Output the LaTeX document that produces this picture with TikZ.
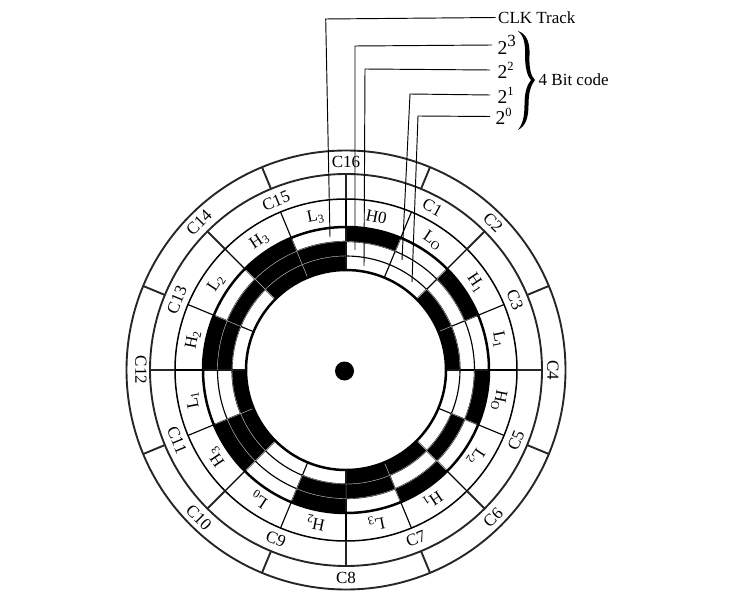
\documentclass[tikz,border=0pt]{standalone}
\usepackage{fontspec}
\setmainfont{Liberation Serif}
\tikzset{
  ringline/.style={draw=black!85,line width=1.9pt},
  trackline/.style={draw=black,line width=1.15pt},
  heavy/.style={draw=black,line width=2.5pt},
  cellfill/.style={fill=black,draw=black!30,line width=.4pt},
  leader/.style={draw=black,line width=.95pt,line join=miter},
  lab/.style={inner sep=0pt,font=\fontsize{17bp}{19bp}\selectfont},
  toplab/.style={inner sep=2.5pt,anchor=west,font=\fontsize{17bp}{19bp}\selectfont},
  bitlab/.style={inner ysep=2pt,anchor=west,font=\fontsize{19.5bp}{22bp}\selectfont},
}
\newcommand{\cellk}[3]{% sector index, inner radius, outer radius
  \pgfmathsetmacro{\aa}{90-22.5*#1}\pgfmathsetmacro{\ab}{90-22.5*(#1+1)}
  \path[cellfill] (\aa:#3) arc[start angle=\aa,end angle=\ab,radius=#3]
    -- (\ab:#2) arc[start angle=\ab,end angle=\aa,radius=#2] -- cycle;}
\begin{document}
\begin{tikzpicture}[x=1bp,y=-1bp]
\useasboundingbox (0,0) rectangle (743,616);
\begin{scope}[shift={(346,370)},y=1bp]
  \foreach \r in {219.5,196}{\draw[ringline] (0,0) circle[radius=\r];}
  \draw[trackline,line width=1.5pt] (0,0) circle[radius=171];
  \foreach \r in {128.5,114}{\draw[trackline] (0,0) circle[radius=\r];}
  % radial separators
  \foreach \k in {0,...,15}{\draw[trackline] (22.5*\k:100) -- (22.5*\k:171);}
  \foreach \k in {0,...,7}{\draw[ringline] (45*\k:171) -- (45*\k:196);
    \draw[ringline] (22.5+45*\k:196) -- (22.5+45*\k:219.5);}
  % coded cells
  \foreach \k in {0,2,4,6,8,10,12,14}{\cellk{\k}{128.5}{143}}
  \foreach \k in {5,7,8,10,12,13,14,15}{\cellk{\k}{114}{128.5}}
  \foreach \k in {2,3,6,7,10,11,14,15}{\cellk{\k}{100}{114}}
  \draw[heavy] (0,0) circle[radius=143];
  \draw[heavy] (0,0) circle[radius=100];
  \fill (-1.5,-1) circle[radius=9.5];
  % track labels
  \foreach \k/\t in {0/H0,1/L\textsubscript{O},2/H\textsubscript{1},3/L\textsubscript{1},4/H\textsubscript{O},5/L\textsubscript{2},6/H\textsubscript{1},7/L\textsubscript{3},8/H\textsubscript{2},9/L\textsubscript{0},10/H\textsubscript{3},11/L\textsubscript{1},12/H\textsubscript{2},13/L\textsubscript{2},14/H\textsubscript{3},15/L\textsubscript{3}}{
    \pgfmathsetmacro{\am}{78.75-22.5*\k}
    \node[lab,rotate=\am-90] (t\k) at (\am:156) {\t};}
  % sector labels
  \foreach \n/\a/\r/\q in {16/90/208/0,1/62/184/-28,2/45/208/-45,3/22.5/183/-67.5,4/0/207/-90,5/-22.5/184/67.5,6/-45/208/45,7/-67.5/183/22.5,8/-90/208/0,9/-112.5/183/-22.5,10/-135/208/-45,11/-157.5/183/-67.5,12/180/205/-90,13/157.5/183/67.5,14/135/208/45,15/112.5/183/22.5}{
    \node[lab,rotate=\q] (c\n) at (\a:\r) {C\n};}
\end{scope}
% outside labels
\node[toplab] (clk) at (495.5,17.5) {CLK Track};
\node[bitlab,inner xsep=5.5pt] (b3) at (492,45) {2\raisebox{.42em}{\fontsize{17bp}{18bp}\selectfont 3}};
\node[bitlab,inner xsep=7.5pt] (b2) at (490,70) {2\raisebox{.42em}{\fontsize{12.5bp}{14bp}\selectfont 2}};
\node[bitlab,inner xsep=7.5pt] (b1) at (490,95) {2\raisebox{.42em}{\fontsize{12.5bp}{14bp}\selectfont 1}};
\node[bitlab,inner xsep=5.5pt] (b0) at (490,116.5) {2\raisebox{.42em}{\fontsize{12.5bp}{14bp}\selectfont 0}};
\node[lab,anchor=west] (code) at (538.5,80) {4 Bit code};
% leaders
\coordinate (eclk) at (330,237); \coordinate (e3) at (355,250);
\coordinate (e2) at (364,266); \coordinate (e1) at (402,260); \coordinate (e0) at (412,282);
\draw[leader] (clk.west) -- (325.7,19) -- (eclk);
\draw[leader] (b3.west) -- (355,46) -- (e3);
\draw[leader] (b2.west) -- (365,69) -- (e2);
\draw[leader] (b1.west) -- (410,94) -- (e1);
\draw[leader] (b0.west) -- (418,116) -- (e0);
% brace
\fill (518,31) .. controls (526.5,34) and (530,42) .. (529.5,55)
  .. controls (529,67) and (530.5,76) .. (535,80)
  .. controls (531,85) and (528.5,92) .. (528.5,105)
  .. controls (528.5,118) and (525.5,126) .. (518,130)
  .. controls (522,125) and (524.5,118) .. (524.5,105)
  .. controls (524.5,92) and (527,85) .. (531,80)
  .. controls (527,76) and (525,67) .. (525,55)
  .. controls (525.5,42) and (523,35) .. cycle;
\end{tikzpicture}
\end{document}
